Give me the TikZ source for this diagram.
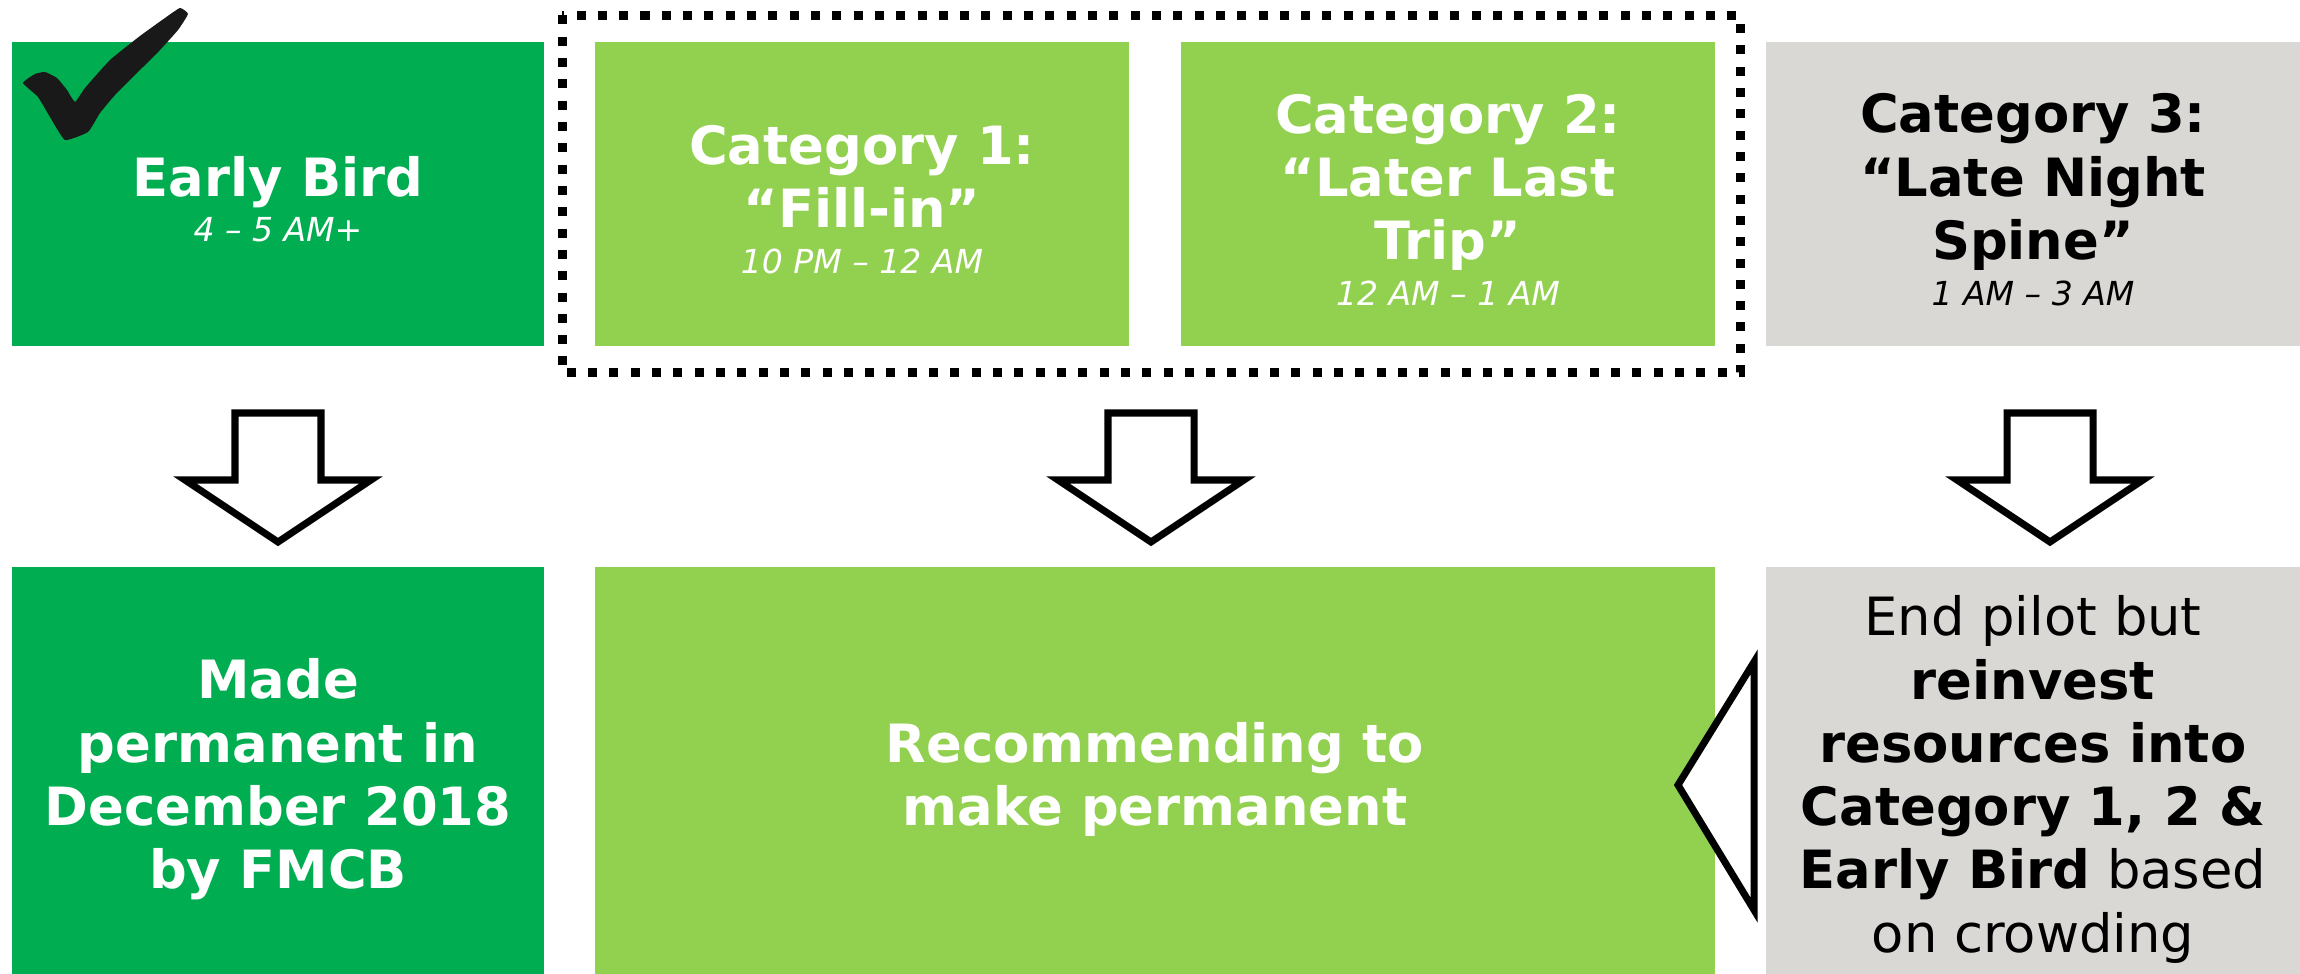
\documentclass[tikz,border=0pt]{standalone}
\usepackage{fontspec}
\setmainfont{DejaVu Sans}
\usepackage{xcolor}

\definecolor{earlygreen}{RGB}{0,173,80}
\definecolor{catgreen}{RGB}{146,208,80}
\definecolor{spinegray}{RGB}{217,216,212}
\newcommand{\timespan}[1]{\\[-5pt]{\fontsize{9.4}{11}\selectfont\mdseries\itshape #1}}
\newcommand{\toppad}{\rule{0pt}{14.4pt}}
\newcommand{\lowpad}{\rule{0pt}{16.5pt}}

\begin{document}
\begin{tikzpicture}[x=0.01cm, y=-0.01cm,
    topbox/.style={minimum width=5.34cm, minimum height=3.04cm, inner sep=0pt,
      align=center, text=white, font=\fontsize{15}{18}\selectfont\bfseries},
    lowbox/.style={topbox, minimum height=4.07cm},
    hollow/.style={draw=black, line width=2pt, fill=white, line join=miter},
    groupline/.style={line width=2.56pt, dash pattern=on 2.56pt off 3.5pt}]
  \useasboundingbox (0,0) rectangle (2300,974);
  % top row
  \node[topbox, fill=earlygreen, minimum width=5.32cm] (early) at (278,194)
    {\toppad Early Bird\timespan{4 – 5 AM+}};
  \node[topbox, fill=catgreen] (cat1) at (862,194)
    {\toppad Category 1:\\“Fill-in”\timespan{10 PM – 12 AM}};
  \node[topbox, fill=catgreen] (cat2) at (1448,194)
    {\toppad Category 2:\\“Later Last\\Trip”\timespan{12 AM – 1 AM}};
  \node[topbox, fill=spinegray, text=black] (cat3) at (2033,194)
    {\toppad Category 3:\\“Late Night\\Spine”\timespan{1 AM – 3 AM}};
  \fill[black!90] plot[smooth cycle, tension=0.25] coordinates {
    (23,83) (35,74) (45,72) (57,78) (67,90) (75,102) (85,88) (110,60)
    (140,36) (165,18) (180,8) (188,14) (178,30) (160,50) (140,70)
    (115,95) (100,113) (88,132) (65,140) (50,117) (38,97)};
  \draw[groupline] (562,15.5) rectangle (1740,373);
  % bottom row
  \node[lowbox, fill=earlygreen, minimum width=5.32cm] (made) at (278,770.5)
    {\lowpad Made\\permanent in\\December 2018\\by FMCB};
  \node[lowbox, fill=catgreen, minimum width=11.2cm] (recommend) at (1155,770.5)
    {\lowpad Recommending to\\make permanent};
  \node[lowbox, fill=spinegray, text=black, font=\fontsize{15}{18}\selectfont] (endpilot) at (2033,770.5)
    {\lowpad End pilot but\\\textbf{reinvest}\\\textbf{resources into}\\\textbf{Category 1, 2 \&}\\\textbf{Early Bird} based\\on crowding};
  % block arrows
  \foreach \x in {278,1151,2050}
    \draw[hollow] (\x-43,413) -- (\x+43,413) -- (\x+43,480) -- (\x+93,480)
      -- (\x,542) -- (\x-93,480) -- (\x-43,480) -- cycle;
  \draw[hollow] (1678,785) -- (1754,662) -- (1754,910) -- cycle;
\end{tikzpicture}
\end{document}
